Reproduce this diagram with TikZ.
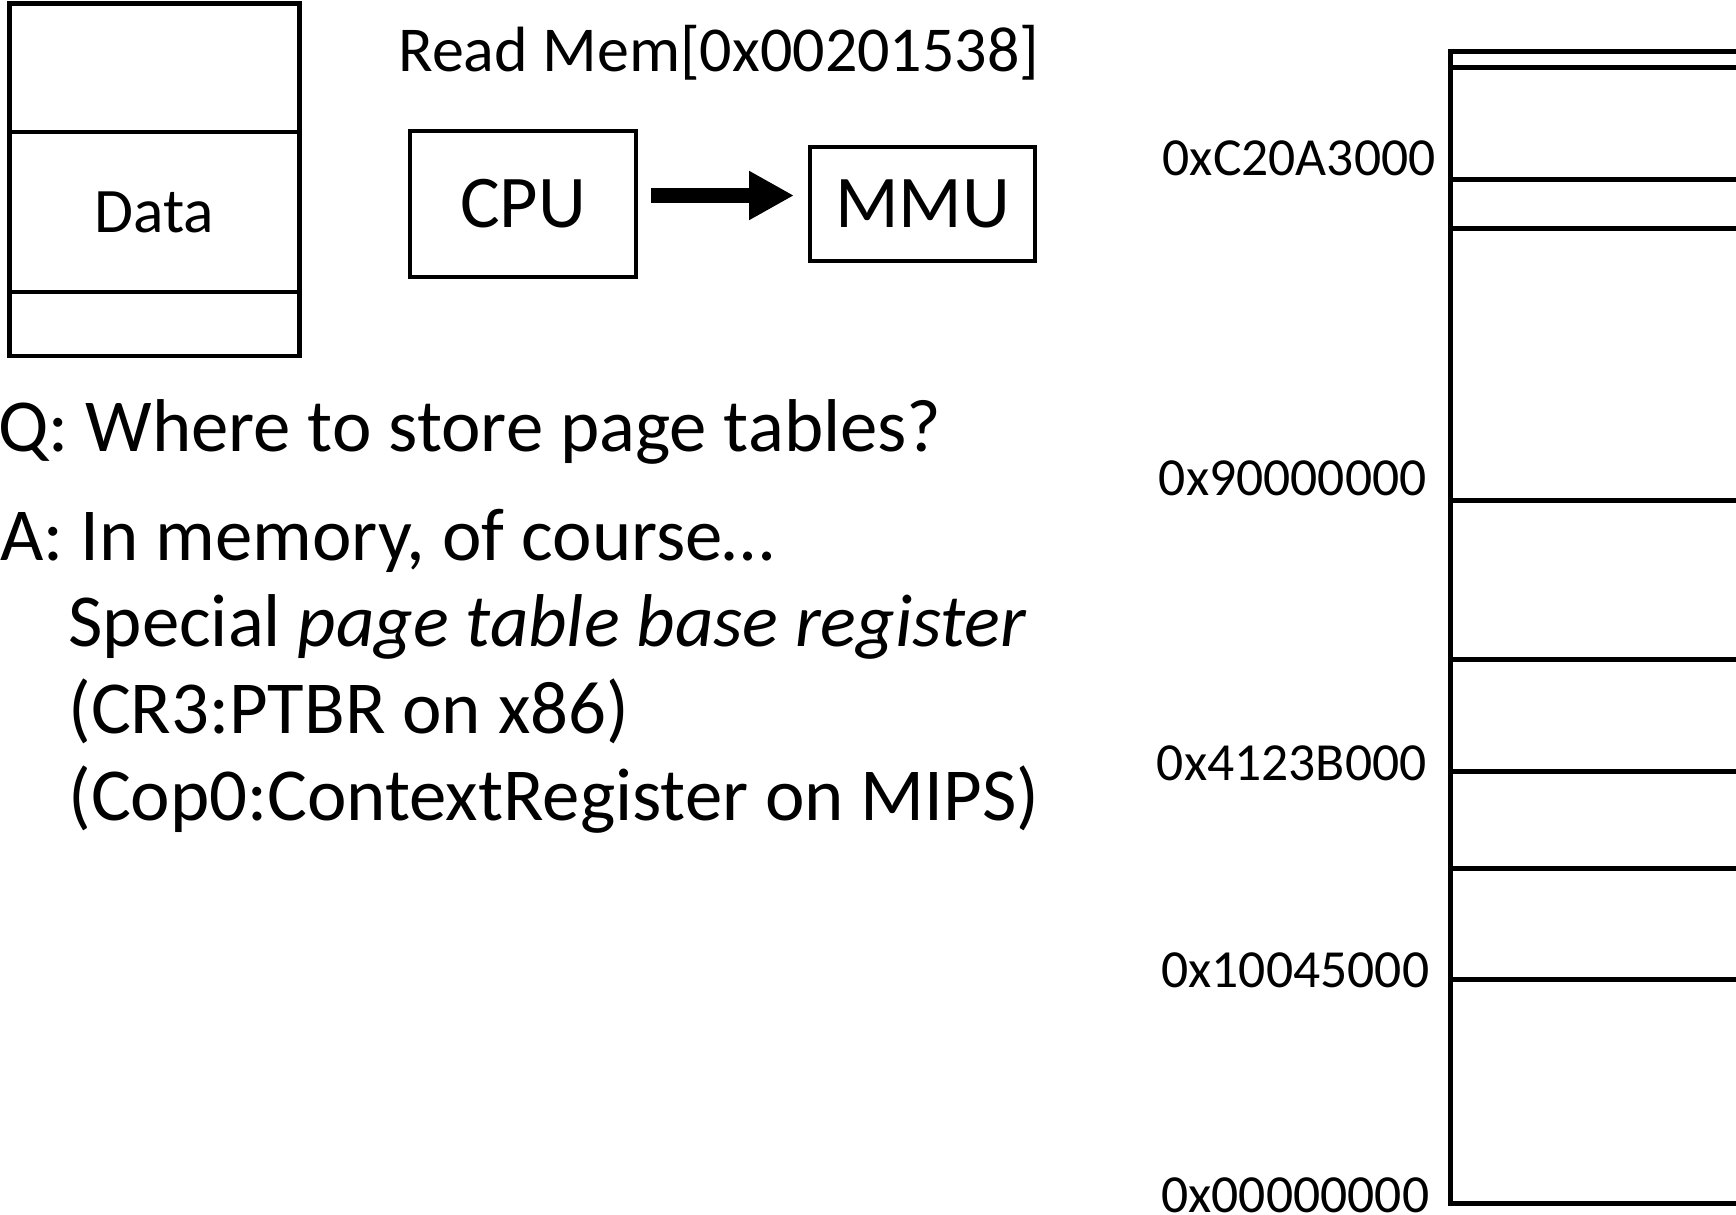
\documentclass[tikz,border=0pt]{standalone}
\usepackage{fontspec}
\setmainfont{Carlito}
\usetikzlibrary{arrows.meta,positioning}

\begin{document}
\begin{tikzpicture}[x=0.5pt,y=-0.5pt,
  cell/.style={draw,line width=2.4pt,minimum width=145pt,inner sep=0pt,outer sep=0pt,font=\fontsize{31.7}{38}\selectfont},
  unit/.style={draw,line width=2.4pt,inner sep=0pt,outer sep=0pt,font=\fontsize{37.2}{44}\selectfont},
  txt/.style={anchor=base west,inner sep=0pt,font=\fontsize{37.4}{45}\selectfont},
  addr/.style={anchor=base east,inner sep=0pt,font=\fontsize{26.8}{32}\selectfont},
  memline/.style={line width=2.5pt},
  fatarrow/.style={line width=7.5pt,-{Triangle[length=22.5pt,width=23pt]}}]
  \useasboundingbox (0,0) rectangle (1736,1215);

  \node[cell,minimum height=64.35pt] (stacktop) at (154.4,67.65) {};
  \node[cell,minimum height=80pt,below=0pt of stacktop] (stackdata) {Data};
  \node[cell,minimum height=32pt,below=0pt of stackdata] (stackbot) {};

  \node[anchor=base west,inner sep=0pt,font=\fontsize{32}{38}\selectfont] (readmem) at (398,71.7) {Read Mem[0x00201538]};
  \node[unit,minimum width=113pt,minimum height=73pt] (cpu) at (523,204) {CPU};
  \node[unit,minimum width=112.5pt,minimum height=57pt,right=87pt of cpu] (mmu) {MMU};
  \draw[fatarrow,shorten <=7.5pt,shorten >=8pt] ([yshift=4.25pt]cpu.east) -- ([yshift=4.25pt]mmu.west);

  \node[txt] (question) at (-2,451.7) {Q: Where to store page tables?};
  \node[txt] (answer) at (0,560) {A: In memory, of course…};
  \node[txt] (ptbr) at (68,646.7) {Special \textit{page table base register}};
  \node[txt] (x86) at (68,733) {(CR3:PTBR on x86)};
  \node[txt] (mips) at (68,820) {(Cop0:ContextRegister on MIPS)};

  \draw[memline] (1736,51.7) -- (1450,51.7) -- (1450,1203) -- (1736,1203);
  \foreach \y in {67.7,179.7,228,500,659,771.7,868,979}
    \draw[memline] (1450,\y) -- (1736,\y);
  \foreach \lab/\x/\y in {C20A3000/1436/175, 90000000/1427/495, 4123B000/1427/780, 10045000/1429.5/987, 00000000/1429.5/1212}
    \node[addr] (addr\lab) at (\x,\y) {0x\lab};
\end{tikzpicture}
\end{document}
